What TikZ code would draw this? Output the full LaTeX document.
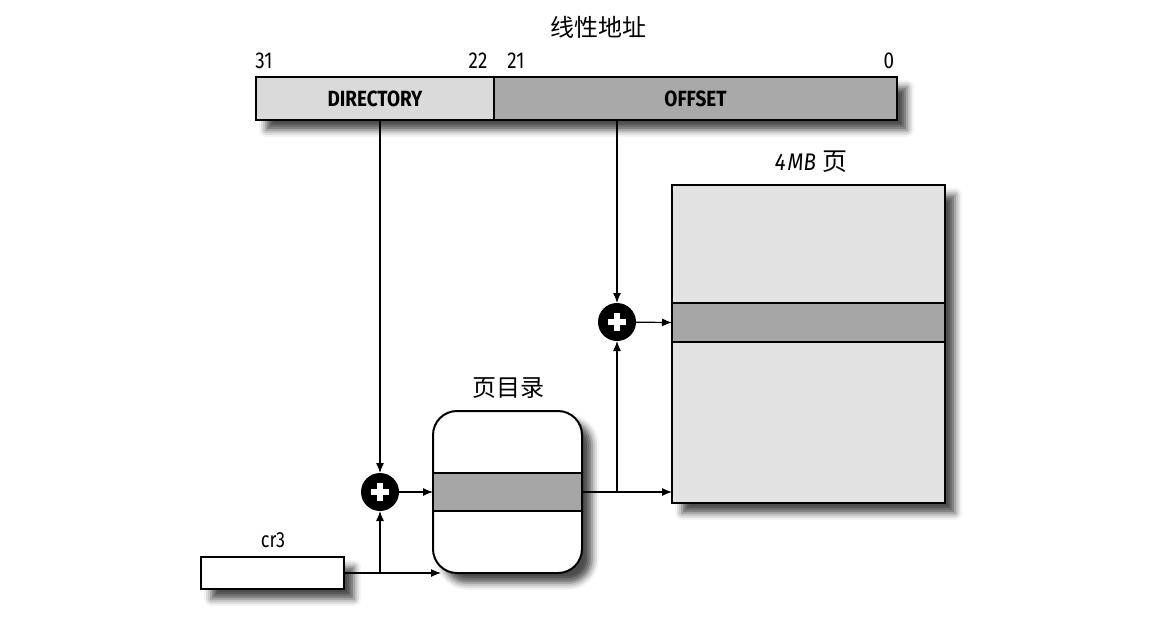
\documentclass[tikz,border=0pt]{standalone}
\usepackage{fontspec}
\setmainfont{Fira Sans}
\newfontfamily\cjk{Noto Sans CJK SC}
\newfontfamily\cond{Fira Sans}[FakeStretch=0.82]
\newfontfamily\condb{Fira Sans}[FakeStretch=0.86]
\usetikzlibrary{shadows.blur,arrows.meta}
\definecolor{fieldlight}{HTML}{DADADA}
\definecolor{fielddark}{HTML}{A9A9A9}
\definecolor{pagefill}{HTML}{E2E2E2}
\definecolor{entryfill}{HTML}{A6A6A6}
\tikzset{
  shade/.style={blur shadow={shadow xshift=5pt,shadow yshift=-5pt,shadow blur radius=3.5pt,shadow opacity=70}},
  box/.style={draw=black,line width=1pt,inner sep=0pt,outer sep=0pt},
  entry/.style={box,fill=entryfill},
  adder/.style={circle,fill=black,minimum size=19pt,inner sep=0pt,outer sep=0pt,
    path picture={\draw[white,line width=2.6pt] (path picture bounding box.center) ++(-4.6pt,0) -- ++(9.2pt,0);
                  \draw[white,line width=2.6pt] (path picture bounding box.center) ++(0,-4.6pt) -- ++(0,9.2pt);}},
  link/.style={draw=black,line width=0.6pt,-{Latex[length=5pt,width=4pt]}},
  bitno/.style={font=\cond\fontsize{11.5}{13}\selectfont,inner sep=0pt},
  fieldname/.style={font=\condb\bfseries\fontsize{11}{13}\selectfont},
  caption/.style={font=\cjk\fontsize{12}{14}\selectfont,inner sep=0pt}
}
\begin{document}
\begin{tikzpicture}[x=0.5pt,y=-0.5pt]
\useasboundingbox (0,0) rectangle (1158,622);

% linear address
\node[caption] (title) at (598,27) {线性地址};
\node[box,shade,minimum width=320.5pt,minimum height=21.5pt] (bar) at (576.5,98.5) {};
\node[box,fill=fieldlight,minimum width=119pt,minimum height=21.5pt] (dir) at (375,98.5) {};
\node[box,fill=fielddark,minimum width=201.5pt,minimum height=21.5pt] (off) at (695.5,98.5) {};
\node[fieldname] (dirname) at (dir.center) {DIRECTORY};
\node[fieldname] (offname) at (off.center) {OFFSET};
\node[bitno] (b31) at (264,61) {31};
\node[bitno] (b22) at (478,61) {22};
\node[bitno] (b21) at (516,61) {21};
\node[bitno] (b0) at (889,61) {0};

% cr3 register
\node[box,fill=white,shade,minimum width=71.5pt,minimum height=16pt] (cr3) at (272.5,573) {};
\node[bitno,font=\cond\fontsize{11}{13}\selectfont] (cr3name) at (273,540) {cr3};

% page directory
\node[box,fill=white,shade,rounded corners=12pt,minimum width=74.5pt,minimum height=81pt] (pdir) at (507.5,492) {};
\node[entry,minimum width=74.5pt,minimum height=19pt] (pde) at (507.5,492) {};
\node[caption] (pdirname) at (508,388) {页目录};

% 4 MB page
\node[box,fill=pagefill,shade,minimum width=136.5pt,minimum height=159pt] (page) at (808.5,344) {};
\node[entry,minimum width=136.5pt,minimum height=19.5pt] (pent) at (808.5,322.5) {};
\node[inner sep=0pt] (pagename) at (811,162) {{\condb\itshape\fontsize{12}{14}\selectfont 4\kern1pt MB}\kern3pt{\cjk\fontsize{12.5}{14}\selectfont 页}};

% adders
\node[adder] (add1) at (380,492) {};
\node[adder] (add2) at (617,322) {};

% connectors
\coordinate (pdirin) at (441,573);
\draw[link] (dir.south -| add1) -- (add1);
\draw[link] (off.south -| add2) -- (add2);
\draw[link] (cr3.east) -- (pdirin);
\draw[link] (cr3.east -| add1) -- (add1);
\draw[link] (add1) -- (pde.west);
\draw[link] (pde.east) -- (page.west |- pde.east);
\draw[link] (pde.east -| add2) -- (add2);
\draw[link] (add2) -- (pent.west);
\end{tikzpicture}
\end{document}
